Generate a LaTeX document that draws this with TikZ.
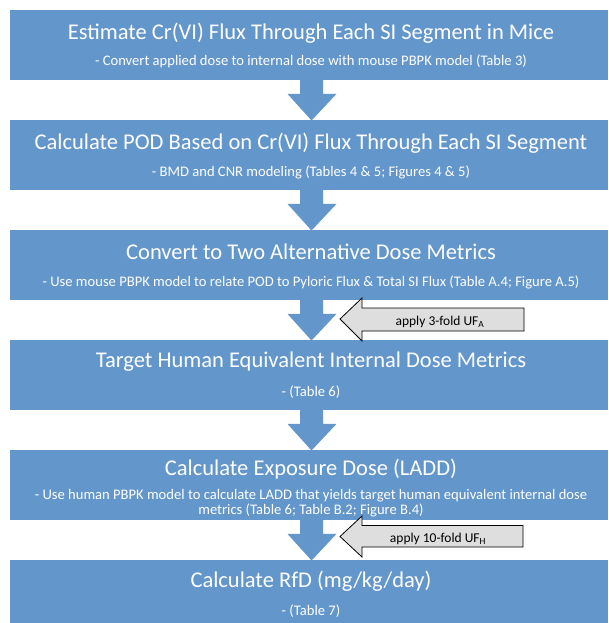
\documentclass[tikz,border=0pt]{standalone}
\usepackage{fontspec}
\setmainfont{Carlito}
\usetikzlibrary{calc}
\definecolor{boxblue}{RGB}{99,150,202}
\definecolor{sidegray}{RGB}{222,222,222}
\begin{document}
\begin{tikzpicture}[x=1pt,y=-1pt,
  stepbox/.style={fill=boxblue,draw=none,inner sep=0pt,minimum width=598.5pt,minimum height=70pt,anchor=north west},
  title/.style={text=white,font=\fontsize{22.5}{26}\selectfont,inner sep=0pt,anchor=center},
  sub/.style={text=white,font=\fontsize{14.6}{15}\selectfont,inner sep=0pt,anchor=center,align=center},
  downarrow/.style={fill=boxblue,draw=none},
  sidearrow/.style={fill=sidegray,draw=black,line width=0.8pt,line join=miter},
  sidetext/.style={text=black,font=\fontsize{13.5}{15}\selectfont,inner sep=0pt,anchor=center}]
\useasboundingbox (0,0) rectangle (608,623);
\fill[white] (0,0) rectangle (608,623);
% boxes
\node[stepbox] (b1) at (9.5,10) {};
\node[stepbox] (b2) at (9.5,120) {};
\node[stepbox] (b3) at (9.5,230) {};
\node[stepbox] (b4) at (9.5,340) {};
\node[stepbox] (b5) at (9.5,450) {};
\node[stepbox,minimum height=63pt] (b6) at (9.5,560) {};
\coordinate (ax) at (311.5,0);
% titles
\node[title] (t1) at (311,33) {Estimate Cr(VI) Flux Through Each SI Segment in Mice};
\node[sub] (s1) at (311,61) {- Convert applied dose to internal dose with mouse PBPK model (Table 3)};
\node[title] (t2) at (311,143) {Calculate POD Based on Cr(VI) Flux Through Each SI Segment};
\node[sub] (s2) at (311,172) {- BMD and CNR modeling (Tables 4 \& 5; Figures 4 \& 5)};
\node[title] (t3) at (311,252) {Convert to Two Alternative Dose Metrics};
\node[sub] (s3) at (311,282) {- Use mouse PBPK model to relate POD to Pyloric Flux \& Total SI Flux (Table A.4; Figure A.5)};
\node[title] (t4) at (311,362) {Target Human Equivalent Internal Dose Metrics};
\node[sub] (s4) at (311,392) {- (Table 6)};
\node[title] (t5) at (311,469) {Calculate Exposure Dose (LADD)};
\node[sub] (s5) at (311,503.5) {- Use human PBPK model to calculate LADD that yields target human equivalent internal dose\\metrics (Table 6; Table B.2; Figure B.4)};
\node[title] (t6) at (311,581) {Calculate RfD (mg/kg/day)};
\node[sub] (s6) at (311,611) {- (Table 7)};
% down block arrows
\foreach \a/\b in {b1/b2,b2/b3,b3/b4,b4/b5,b5/b6}{
  \fill[downarrow] ($(\a.south -| ax)+(-11.5,-0.5)$) -- ++(23,0) -- ++(0,14) -- ++(13.5,0)
    -- ($(\b.north -| ax)+(0,0.5)$) -- ($(\a.south -| ax)+(-24,13.5)$) -- ++(12.5,0) -- cycle;
}
% side arrows
\draw[sidearrow] (340,319) -- (362,298) -- (362,308) -- (524,308) -- (524,331) -- (362,331) -- (362,341) -- cycle;
\node[sidetext] (u1) at (440,322) {apply 3-fold UF\textsubscript{A}};
\draw[sidearrow] (340,536.5) -- (362,516) -- (362,525.5) -- (523,525.5) -- (523,547) -- (362,547) -- (362,557) -- cycle;
\node[sidetext] (u2) at (438,538.5) {apply 10-fold UF\textsubscript{H}};
\end{tikzpicture}
\end{document}
